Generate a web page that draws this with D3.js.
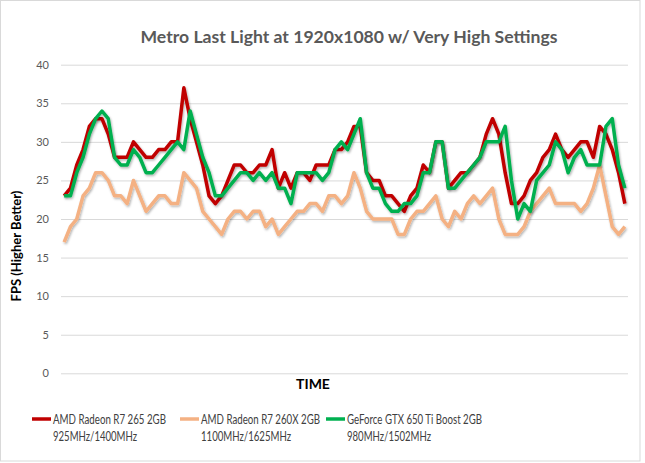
<!DOCTYPE html>
<html>
<head>
<meta charset="utf-8">
<script src="https://cdn.jsdelivr.net/npm/d3@7"></script>
<style>
  body { margin: 0; background: #fff; }
  text { font-family: Lato, "Open Sans", sans-serif; }
</style>
</head>
<body>
<svg id="chart" width="645" height="463"></svg>
<script>
// FPS readings per sample (90 samples)
const r7_265 = [23, 24, 27, 29, 32, 33, 33, 31, 28, 28, 28, 30, 29, 28, 28, 29, 29, 30, 30, 37,
  33, 30, 27, 23, 22, 23, 25, 27, 27, 26, 26, 27, 27, 29, 24, 26, 24, 26, 26, 25,
  27, 27, 27, 29, 29, 30, 32, 32, 26, 25, 25, 23, 23, 22, 21, 23, 24, 27, 26, 30,
  30, 24, 25, 26, 26, 27, 28, 31, 33, 31, 26, 22, 22, 23, 25, 26, 28, 29, 31, 29,
  28, 29, 30, 30, 28, 32, 31, 29, 26, 22];
const r7_260x = [17, 19, 20, 23, 24, 26, 26, 25, 23, 23, 22, 25, 23, 21, 22, 23, 23, 22, 22, 26,
  25, 24, 21, 20, 19, 18, 20, 21, 21, 20, 21, 21, 19, 20, 18, 19, 20, 21, 21, 22,
  22, 21, 23, 23, 22, 23, 26, 24, 21, 20, 20, 20, 20, 18, 18, 20, 21, 21, 22, 23,
  20, 19, 21, 20, 22, 23, 22, 23, 24, 20, 18, 18, 18, 19, 21, 22, 23, 24, 22, 22,
  22, 22, 21, 22, 24, 27, 23, 19, 18, 19];
const gtx650 = [23, 23, 26, 28, 31, 33, 34, 33, 28, 27, 27, 29, 28, 26, 26, 27, 28, 29, 30, 29,
  34, 31, 28, 26, 23, 23, 24, 25, 26, 26, 25, 26, 25, 26, 24, 24, 22, 26, 26, 26,
  26, 25, 26, 29, 30, 29, 31, 33, 26, 24, 24, 22, 21, 21, 22, 22, 23, 26, 26, 30,
  30, 24, 24, 25, 26, 27, 28, 30, 30, 30, 32, 25, 20, 22, 21, 25, 26, 27, 30, 29,
  26, 28, 29, 27, 27, 27, 32, 33, 27, 24];

const seriesNames = ["AMD Radeon R7 265 2GB", "AMD Radeon R7 260X 2GB", "GeForce GTX 650 Ti Boost 2GB"];
const seriesClocks = ["925MHz/1400MHz", "1100MHz/1625MHz", "980MHz/1502MHz"];
const seriesColors = ["#c00000", "#f4b183", "#00b050"];
const yTicks = [0, 5, 10, 15, 20, 25, 30, 35, 40];

const allSeries = [r7_265, r7_260x, gtx650];

drawChart();

function drawChart() {
  const svg = d3.select("#chart");

  const plot = { left: 61, right: 628, top: 64.7, bottom: 373.3 };

  // outer chart border
  svg.append("rect")
    .attr("x", 0.5).attr("y", 0.5)
    .attr("width", 639.5).attr("height", 460.5)
    .attr("fill", "#fff")
    .attr("stroke", "#d9d9d9");

  const defs = svg.append("defs");
  const f = defs.append("filter").attr("id", "shadow")
    .attr("x", "-5%").attr("y", "-5%").attr("width", "110%").attr("height", "120%");
  f.append("feDropShadow")
    .attr("dx", 1).attr("dy", 1.5).attr("stdDeviation", 1)
    .attr("flood-color", "#000").attr("flood-opacity", 0.3);

  const x = d3.scalePoint()
    .domain(d3.range(r7_265.length))
    .range([plot.left, plot.right])
    .padding(0.5);

  const y = d3.scaleLinear()
    .domain([0, 40])
    .range([plot.bottom, plot.top]);

  // gridlines + y labels
  const yAxis = svg.append("g")
    .attr("transform", `translate(${plot.left},0)`)
    .call(d3.axisLeft(y).tickValues(yTicks).tickSize(-(plot.right - plot.left)).tickPadding(12));
  yAxis.select(".domain").remove();
  yAxis.selectAll(".tick line").attr("stroke", "#d9d9d9");
  yAxis.selectAll(".tick text")
    .attr("fill", "#595959")
    .style("font-size", "11px")
    .style("font-family", "Lato, sans-serif");

  const line = d3.line()
    .x((d, i) => x(i))
    .y(d => y(d));

  svg.append("g")
    .selectAll("path")
    .data(allSeries)
    .enter()
    .append("path")
    .attr("d", d => line(d))
    .attr("fill", "none")
    .attr("stroke", (d, i) => seriesColors[i])
    .attr("stroke-width", 3.5)
    .attr("stroke-linejoin", "round")
    .attr("filter", "url(#shadow)");

  // title
  svg.append("text")
    .attr("x", 349)
    .attr("y", 43)
    .attr("text-anchor", "middle")
    .attr("fill", "#595959")
    .style("font-size", "17.6px")
    .style("font-weight", "bold")
    .text("Metro Last Light at 1920x1080 w/ Very High Settings");

  // axis titles
  svg.append("text")
    .attr("x", 313)
    .attr("y", 389)
    .attr("text-anchor", "middle")
    .attr("fill", "#000")
    .style("font-size", "14px")
    .style("font-weight", "bold")
    .text("TIME");

  svg.append("text")
    .attr("transform", "rotate(-90)")
    .attr("x", -246)
    .attr("y", 21)
    .attr("text-anchor", "middle")
    .attr("fill", "#000")
    .style("font-size", "13px")
    .style("font-weight", "bold")
    .text("FPS (Higher Better)");

  // legend
  const legendX = [32, 180, 326];
  const nameWidths = [113, 119, 135];
  const clockWidths = [84, 90, 84];
  const legend = svg.append("g")
    .selectAll("g")
    .data(seriesNames)
    .enter()
    .append("g")
    .attr("transform", (d, i) => `translate(${legendX[i]},419)`);

  legend.append("line")
    .attr("x1", 0).attr("x2", 19)
    .attr("y1", 0).attr("y2", 0)
    .attr("stroke", (d, i) => seriesColors[i])
    .attr("stroke-width", 3.5);

  legend.append("text")
    .attr("x", 21)
    .attr("y", 4.5)
    .attr("fill", "#404040")
    .attr("textLength", (d, i) => nameWidths[i])
    .attr("lengthAdjust", "spacingAndGlyphs")
    .style("font-size", "12.5px")
    .text(d => d);

  legend.append("text")
    .attr("x", 21)
    .attr("y", 21.5)
    .attr("fill", "#404040")
    .attr("textLength", (d, i) => clockWidths[i])
    .attr("lengthAdjust", "spacingAndGlyphs")
    .style("font-size", "12.5px")
    .text((d, i) => seriesClocks[i]);
}
</script>
</body>
</html>
